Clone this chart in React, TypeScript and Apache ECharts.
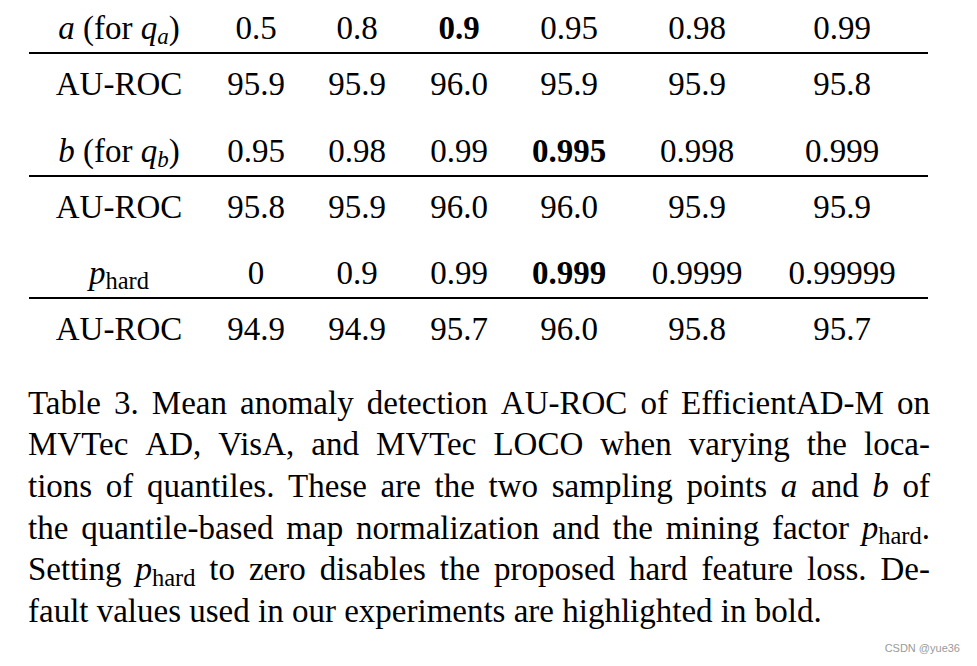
import React, { useEffect, useRef } from 'react';
import * as echarts from 'echarts';

// ---------- data ----------
const rowLabels = ['*a* (for *q*_{*a*})', '*b* (for *q*_{*b*})', '*p*_{hard}'];
const aValues = ['0.5', '0.8', '0.9', '0.95', '0.98', '0.99'];
const aAuroc = [95.9, 95.9, 96.0, 95.9, 95.9, 95.8];
const bValues = ['0.95', '0.98', '0.99', '0.995', '0.998', '0.999'];
const bAuroc = [95.8, 95.9, 96.0, 96.0, 95.9, 95.9];
const pValues = ['0', '0.9', '0.99', '0.999', '0.9999', '0.99999'];
const pAuroc = [94.9, 94.9, 95.7, 96.0, 95.8, 95.7];
const defaultIndex = [2, 3, 3];
const metricLabel = 'AU-ROC';
const captionLines = [
  'Table 3. Mean anomaly detection AU-ROC of EfficientAD-M on',
  'MVTec AD, VisA, and MVTec LOCO when varying the loca-',
  'tions of quantiles. These are the two sampling points *a* and *b* of',
  'the quantile-based map normalization and the mining factor *p*_{hard}.',
  'Setting *p*_{hard} to zero disables the proposed hard feature loss. De-',
  'fault values used in our experiments are highlighted in bold.',
];
const watermark = 'CSDN @yue36';

// ---------- layout ----------
const FAMILY = '"Liberation Serif", "Times New Roman", Times, serif';
const MAIN = 33;
const SUB_IT = 23;
const SUB_RM = 24.5;
const SUB_DROP = 5;
const LABEL_X = 119;
const COL_X = [256, 357, 459, 569, 697, 842];
const HEAD_BASE = [39, 162, 284];
const VAL_BASE = [95, 218, 340];
const RULE_Y = [53, 176, 298];
const RULE_X0 = 29;
const RULE_X1 = 928;
const CAP_X0 = 28;
const CAP_X1 = 930;
const CAP_BASE0 = 414;
const CAP_LEAD = 41.6;

type Seg = { t: string; i?: boolean; b?: boolean; sub?: boolean };

let ctx: CanvasRenderingContext2D | null = null;
function sizeOf(s: Seg) {
  return s.sub ? (s.i ? SUB_IT : SUB_RM) : MAIN;
}
function fontStr(s: Seg) {
  return `${s.i ? 'italic ' : ''}${s.b ? 'bold ' : ''}${sizeOf(s)}px ${FAMILY}`;
}
function measure(s: Seg) {
  if (!ctx) ctx = document.createElement('canvas').getContext('2d');
  ctx!.font = fontStr(s);
  return ctx!.measureText(s.t).width;
}
function segsWidth(segs: Seg[]) {
  return segs.reduce((w, s) => w + measure(s), 0);
}
function parse(str: string, bold = false): Seg[] {
  const segs: Seg[] = [];
  let italic = false;
  let buf = '';
  const flush = () => {
    if (buf) segs.push({ t: buf, i: italic, b: bold });
    buf = '';
  };
  for (let k = 0; k < str.length; k++) {
    const c = str[k];
    if (c === '*') {
      flush();
      italic = !italic;
    } else if (c === '_' && str[k + 1] === '{') {
      flush();
      const end = str.indexOf('}', k);
      let inner = str.slice(k + 2, end);
      let subItalic = false;
      if (inner.startsWith('*')) {
        subItalic = true;
        inner = inner.replace(/\*/g, '');
      }
      segs.push({ t: inner, i: subItalic, sub: true });
      k = end;
    } else {
      buf += c;
    }
  }
  flush();
  return segs;
}
function segEls(segs: Seg[], x0: number, baseline: number, sx = 1) {
  const els: any[] = [];
  let x = x0;
  for (const s of segs) {
    const size = sizeOf(s);
    els.push({
      type: 'text',
      x,
      y: baseline + (s.sub ? SUB_DROP : 0) - size * 0.3375,
      scaleX: sx,
      silent: true,
      style: {
        text: s.t,
        fontFamily: FAMILY,
        fontSize: size,
        fontStyle: s.i ? 'italic' : 'normal',
        fontWeight: s.b ? 'bold' : 'normal',
        fill: '#000',
        align: 'left',
        verticalAlign: 'middle',
      },
    });
    x += measure(s) * sx;
  }
  return els;
}
function centered(str: string, cx: number, baseline: number, bold = false) {
  const segs = parse(str, bold);
  return segEls(segs, cx - segsWidth(segs) / 2, baseline);
}

function buildGraphics() {
  const els: any[] = [];
  const heads = [aValues, bValues, pValues];
  const vals = [aAuroc, bAuroc, pAuroc];
  for (let r = 0; r < 3; r++) {
    els.push(...centered(rowLabels[r], LABEL_X, HEAD_BASE[r]));
    els.push(...centered(metricLabel, LABEL_X, VAL_BASE[r]));
    heads[r].forEach((v, c) => {
      els.push(...centered(v, COL_X[c], HEAD_BASE[r], c === defaultIndex[r]));
    });
    vals[r].forEach((v, c) => {
      els.push(...centered(v.toFixed(1), COL_X[c], VAL_BASE[r]));
    });
    els.push({
      type: 'line',
      silent: true,
      shape: { x1: RULE_X0, y1: RULE_Y[r], x2: RULE_X1, y2: RULE_Y[r] },
      style: { stroke: '#000', lineWidth: 2.2 },
    });
  }
  // caption, justified
  const avail = CAP_X1 - CAP_X0;
  captionLines.forEach((line, li) => {
    const words = line.split(' ').map((w) => parse(w));
    const widths = words.map(segsWidth);
    const sum = widths.reduce((a, b) => a + b, 0);
    const baseline = CAP_BASE0 + li * CAP_LEAD;
    const last = li === captionLines.length - 1;
    const minGap = 6;
    let sx = 1;
    let gap = MAIN * 0.25;
    if (!last) {
      if (sum + minGap * (words.length - 1) > avail) {
        sx = (avail - minGap * (words.length - 1)) / sum;
        gap = minGap;
      } else {
        gap = (avail - sum) / (words.length - 1);
      }
    }
    let x = CAP_X0;
    words.forEach((w, k) => {
      const wx = !last && k === words.length - 1 ? CAP_X1 - widths[k] * sx : x;
      els.push(...segEls(w, wx, baseline, sx));
      x += widths[k] * sx + gap;
    });
  });
  els.push({
    type: 'text',
    x: 960,
    y: 648,
    silent: true,
    style: {
      text: watermark,
      fontFamily: '"Liberation Sans", Arial, sans-serif',
      fontSize: 11,
      fill: '#9a9a9a',
      align: 'right',
      verticalAlign: 'middle',
    },
  });
  return els;
}

export default function App() {
  const ref = useRef<HTMLDivElement>(null);
  useEffect(() => {
    document.body.style.margin = '0';
    const chart = echarts.init(ref.current!, null, { renderer: 'svg', width: 977, height: 666 });
    chart.setOption({
      animation: false,
      backgroundColor: '#ffffff',
      graphic: { elements: buildGraphics() },
    });
    return () => chart.dispose();
  }, []);
  return <div ref={ref} style={{ width: 977, height: 666, background: '#fff' }} />;
}
